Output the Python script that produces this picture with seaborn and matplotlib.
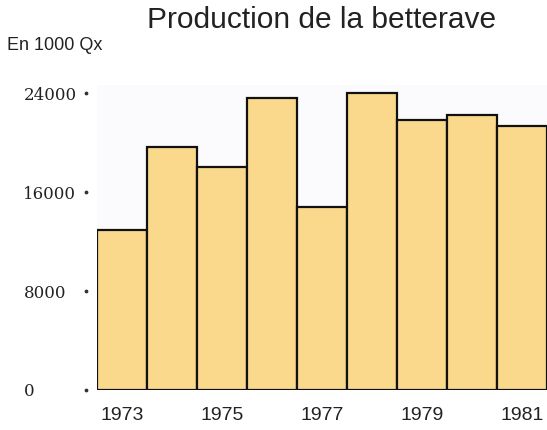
import matplotlib
matplotlib.use("Agg")
import matplotlib.pyplot as plt
import matplotlib.transforms as mtransforms
import seaborn as sns
import pandas as pd

years = ["1973", "1974", "1975", "1976", "1977", "1978", "1979", "1980", "1981"]
production = [12900, 19600, 18000, 23600, 14800, 24000, 21800, 22200, 21300]
ytick_values = [0, 8000, 16000, 24000]
ytick_labels = ["0", "8000", "16000", "24000"]
xtick_labels = ["1973", "1975", "1977", "1979", "1981"]
title = "Production de la betterave"
unit_label = "En 1000 Qx"

df = pd.DataFrame({"year": years, "production": production})

sns.set_style("white")
W, H = 547, 430
fig = plt.figure(figsize=(W / 100, H / 100), dpi=100)
ax = fig.add_axes([97 / W, (H - 390) / H, 450 / W, 305 / H])
ax.set_facecolor("#fbfbfd")

sns.barplot(data=df, x="year", y="production", color="#fad98c", saturation=1,
            width=1.0, edgecolor="#111111", linewidth=1.6, ax=ax)

ax.set_xlim(-0.5, 8.5)
ax.set_ylim(0, 24650)
for s in ax.spines.values():
    s.set_visible(False)
ax.set_xlabel("")
ax.set_ylabel("")

# x ticks: every other year
xpos = [years.index(l) for l in xtick_labels]
ax.set_xticks(xpos)
ax.set_xticklabels(xtick_labels, fontfamily="Liberation Sans", fontsize=14, color="#222222")
ax.tick_params(axis="x", length=0, pad=12)

# y ticks
ax.set_yticks(ytick_values)
ax.set_yticklabels(ytick_labels, fontfamily="DejaVu Serif", fontsize=12, color="#222222", ha="left")
ax.tick_params(axis="y", length=0, pad=53)

# dot tick marks
trans = mtransforms.blended_transform_factory(ax.transAxes, ax.transData)
ax.scatter([-11 / 450] * len(ytick_values), ytick_values, s=3, color="#333333",
           transform=trans, clip_on=False, zorder=5)

fig.text(322 / W, 1 - 20 / H, title, ha="center", va="center",
         fontfamily="Liberation Sans", fontsize=21.5, color="#222222")
fig.text(7 / W, 1 - 45 / H, unit_label, ha="left", va="center",
         fontfamily="Liberation Sans", fontsize=13, color="#222222")

fig.savefig("out.png", dpi=100)
